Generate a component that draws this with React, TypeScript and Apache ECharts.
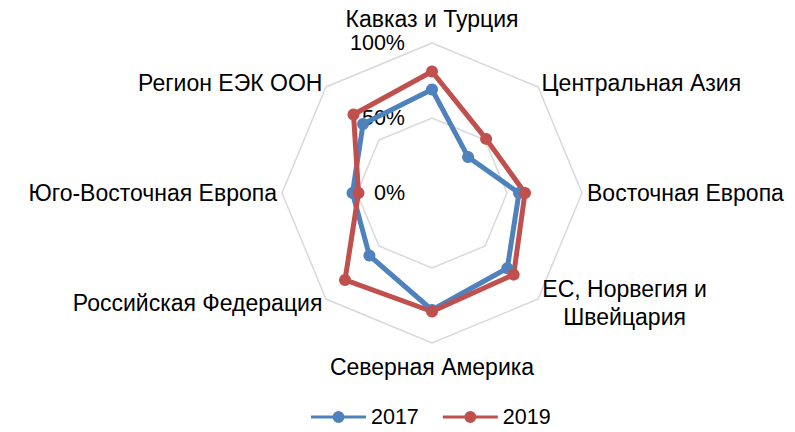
import React, { useEffect, useRef } from "react";
import * as echarts from "echarts";

// Categories in clockwise order starting from the top (as in the reference)
const categories = [
  "Кавказ и Турция",
  "Центральная Азия",
  "Восточная Европа",
  "ЕС, Норвегия и\nШвейцария",
  "Северная Америка",
  "Российская Федерация",
  "Юго-Восточная Европа",
  "Регион ЕЭК ООН",
];
const seriesNames = ["2017", "2019"];
const values2017 = [69, 34, 58, 71, 78, 59, 53, 65];
const values2019 = [81, 51, 62, 77, 79, 82, 49, 74];
const tickLabels = ["0%", "50%", "100%"];
const axisMax = 100;

const colors = ["#4F81BD", "#C0504D"];
const FONT = "'Liberation Sans', Arial, sans-serif";

// ECharts places radar indicators counter-clockwise; map the clockwise order.
const order = [0, 7, 6, 5, 4, 3, 2, 1];
// extra name gaps for the top and bottom indicators (clockwise index)
const nameGaps: Record<number, number> = { 0: 13, 4: 12 };

const legendIcon =
  "path://M0,4.5 L55,4.5 L55,7.5 L0,7.5 Z M21.5,6 A6,6 0 1,1 33.5,6 A6,6 0 1,1 21.5,6 Z";

export default function App() {
  const ref = useRef<HTMLDivElement>(null);
  useEffect(() => {
    if (!ref.current) return;
    const chart = echarts.init(ref.current, undefined, { renderer: "svg" });
    const indicator = order.map((i, k) => {
      const ind: any = { name: categories[i], min: 0, max: axisMax };
      if (nameGaps[i] != null) ind.nameGap = nameGaps[i];
      if (k === 0) {
        ind.axisLabel = {
          show: true,
          margin: 27,
          fontSize: 21.5,
          lineHeight: 17,
          fontFamily: FONT,
          color: "#000",
          formatter: (v: number) => tickLabels[Math.round(v / (axisMax / 2))] ?? "",
        };
      }
      return ind;
    });
    const option: any = {
      animation: false,
      backgroundColor: "#fff",
      legend: {
        data: seriesNames.map((n, i) => ({ name: n, icon: legendIcon, itemStyle: { color: colors[i] } })),
        left: 306,
        top: 401,
        itemWidth: 55,
        itemHeight: 12,
        itemGap: 24,
        textStyle: { fontSize: 21.5, fontFamily: FONT, color: "#000" },
      },
      radar: {
        center: [432, 193],
        radius: 150,
        startAngle: 90,
        shape: "polygon",
        splitNumber: 2,
        nameGap: 5,
        axisName: {
          color: "#000",
          fontSize: 23,
          fontFamily: FONT,
          formatter: (name: string) => {
            if (name.indexOf("\n") >= 0) {
              return name
                .split("\n")
                .map((l) => `{c|${l}}`)
                .join("\n");
            }
            return name;
          },
          rich: {
            c: { width: 166, align: "center", fontSize: 23, fontFamily: FONT, color: "#000", lineHeight: 28 },
          },
        },
        axisLine: { show: false },
        axisTick: { show: false },
        axisLabel: { show: false },
        splitArea: { show: false },
        splitLine: { lineStyle: { color: "#D9D9D9", width: 1.5 } },
        indicator,
      },
      series: [
        {
          type: "radar",
          symbol: "circle",
          symbolSize: 12,
          data: [
            {
              name: seriesNames[0],
              value: order.map((i) => values2017[i]),
              lineStyle: { color: colors[0], width: 5 },
              itemStyle: { color: colors[0] },
            },
            {
              name: seriesNames[1],
              value: order.map((i) => values2019[i]),
              lineStyle: { color: colors[1], width: 5 },
              itemStyle: { color: colors[1] },
            },
          ],
        },
      ],
    };
    chart.setOption(option);
    return () => chart.dispose();
  }, []);
  return (
    <div
      ref={ref}
      style={{ position: "fixed", left: 0, top: 0, width: 795, height: 432, background: "#fff" }}
    />
  );
}
